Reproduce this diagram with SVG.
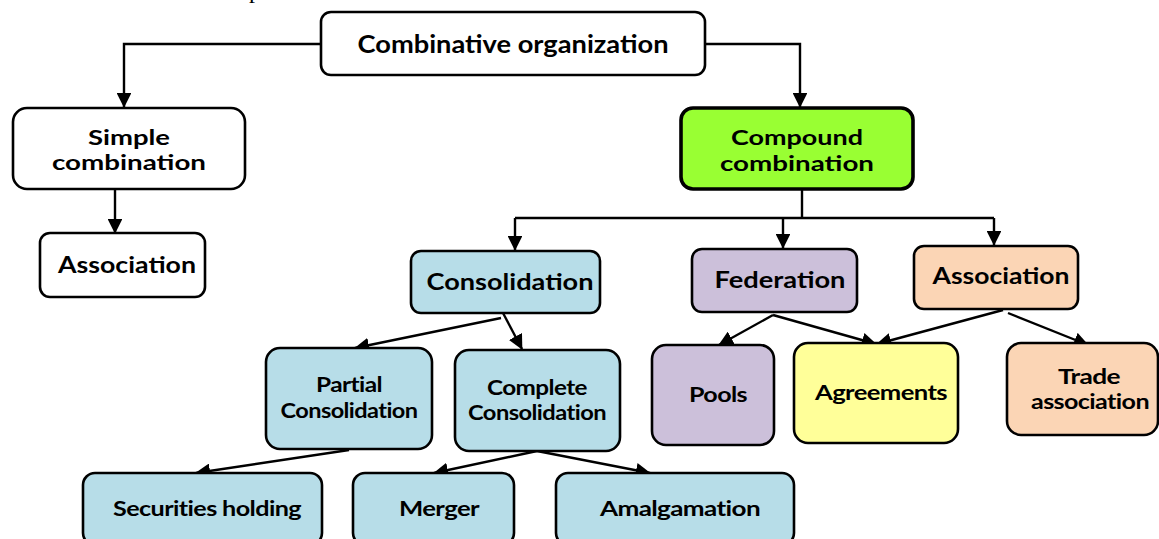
<svg xmlns="http://www.w3.org/2000/svg" width="1159" height="539" viewBox="0 0 1159 539">
  <style>
    .box { stroke: #000; stroke-width: 2.6; }
    .white { fill: #fff; }
    .blue { fill: #b7dde8; }
    .lilac { fill: #ccc0da; }
    .peach { fill: #fbd5b5; }
    .yellow { fill: #ffff99; }
    .green { fill: #99ff33; stroke-width: 3.6; }
    .lbl { font-family: Lato, "Open Sans", "Liberation Sans", sans-serif; font-weight: bold; fill: #000; text-anchor: middle; }
    .big { font-size: 24px; }
    .two { font-size: 21.5px; }
    .mid { font-size: 23px; }
    .small { font-size: 21px; letter-spacing: -0.5px; }
    .conn { fill: none; stroke: #000; stroke-width: 2.4; }
  </style>
  <defs>
    <marker id="arrow" viewBox="0 0 10 10" refX="9.5" refY="5" markerWidth="6.2" markerHeight="6.2" markerUnits="strokeWidth" orient="auto">
      <path d="M0,0 L10,5 L0,10 Z" fill="#000"/>
    </marker>
  </defs>

  <rect width="1159" height="539" fill="#fff"/>

  <!-- descender of a text line running above the chart -->
  <text x="249" y="-2" font-family="Liberation Serif, serif" font-size="24" fill="#000">p</text>

  <g id="connectors">
    <path class="conn" d="M321,44 H124 V107" marker-end="url(#arrow)"/>
    <path class="conn" d="M705,44 H800 V107" marker-end="url(#arrow)"/>
    <path class="conn" d="M115,189 V233" marker-end="url(#arrow)"/>
    <path class="conn" d="M802,190 V218"/>
    <path class="conn" d="M515,218 H994"/>
    <path class="conn" d="M515,218 V250" marker-end="url(#arrow)"/>
    <path class="conn" d="M783,218 V248" marker-end="url(#arrow)"/>
    <path class="conn" d="M994,218 V245" marker-end="url(#arrow)"/>
    <path class="conn" d="M501,318 L355,348" marker-end="url(#arrow)"/>
    <path class="conn" d="M503,313 L522,349" marker-end="url(#arrow)"/>
    <path class="conn" d="M773,315 L719,345" marker-end="url(#arrow)"/>
    <path class="conn" d="M773,315 L876,344" marker-end="url(#arrow)"/>
    <path class="conn" d="M1003,310 L877,344" marker-end="url(#arrow)"/>
    <path class="conn" d="M1008,313 L1088,345" marker-end="url(#arrow)"/>
    <path class="conn" d="M349,450 L196,473" marker-end="url(#arrow)"/>
    <path class="conn" d="M537,451 L434,473" marker-end="url(#arrow)"/>
    <path class="conn" d="M537,451 L650,473" marker-end="url(#arrow)"/>
  </g>

  <g id="combinative-organization">
    <rect class="box white" x="321" y="12" width="384" height="63" rx="10"/>
    <text class="lbl big" x="513" y="53" textLength="311" lengthAdjust="spacingAndGlyphs">Combinative organization</text>
  </g>

  <g id="simple-combination">
    <rect class="box white" x="13" y="108" width="232" height="81" rx="14"/>
    <text class="lbl two" x="129" y="145" textLength="82" lengthAdjust="spacingAndGlyphs">Simple</text>
    <text class="lbl two" x="129" y="170" textLength="154" lengthAdjust="spacingAndGlyphs">combination</text>
  </g>

  <g id="association-simple">
    <rect class="box white" x="40" y="233" width="165" height="64" rx="10"/>
    <text class="lbl mid" x="127" y="273" textLength="138" lengthAdjust="spacingAndGlyphs">Association</text>
  </g>

  <g id="compound-combination">
    <rect class="box green" x="681" y="108" width="232" height="81" rx="12"/>
    <text class="lbl two" x="797" y="145" textLength="132" lengthAdjust="spacingAndGlyphs">Compound</text>
    <text class="lbl two" x="797" y="171" textLength="154" lengthAdjust="spacingAndGlyphs">combination</text>
  </g>

  <g id="consolidation">
    <rect class="box blue" x="411" y="251" width="189" height="62" rx="10"/>
    <text class="lbl mid" x="510" y="290" textLength="167" lengthAdjust="spacingAndGlyphs">Consolidation</text>
  </g>

  <g id="federation">
    <rect class="box lilac" x="692" y="249" width="165" height="63" rx="10"/>
    <text class="lbl mid" x="780" y="288" textLength="131" lengthAdjust="spacingAndGlyphs">Federation</text>
  </g>

  <g id="association-compound">
    <rect class="box peach" x="914" y="246" width="164" height="63" rx="10"/>
    <text class="lbl mid" x="1001" y="284" textLength="137" lengthAdjust="spacingAndGlyphs">Association</text>
  </g>

  <g id="partial-consolidation">
    <rect class="box blue" x="266" y="348" width="166" height="101" rx="14"/>
    <text class="lbl small" x="349" y="392" textLength="66" lengthAdjust="spacingAndGlyphs">Partial</text>
    <text class="lbl small" x="349" y="418" textLength="137" lengthAdjust="spacingAndGlyphs">Consolidation</text>
  </g>

  <g id="complete-consolidation">
    <rect class="box blue" x="455" y="350" width="165" height="101" rx="14"/>
    <text class="lbl small" x="537" y="395" textLength="100" lengthAdjust="spacingAndGlyphs">Complete</text>
    <text class="lbl small" x="537" y="420" textLength="138" lengthAdjust="spacingAndGlyphs">Consolidation</text>
  </g>

  <g id="pools">
    <rect class="box lilac" x="652" y="345" width="122" height="100" rx="14"/>
    <text class="lbl small" x="718" y="402" textLength="58" lengthAdjust="spacingAndGlyphs">Pools</text>
  </g>

  <g id="agreements">
    <rect class="box yellow" x="794" y="343" width="164" height="100" rx="14"/>
    <text class="lbl small" x="881" y="400" textLength="132" lengthAdjust="spacingAndGlyphs">Agreements</text>
  </g>

  <g id="trade-association">
    <rect class="box peach" x="1007" y="343" width="151" height="92" rx="14"/>
    <text class="lbl small" x="1089" y="384" textLength="62" lengthAdjust="spacingAndGlyphs">Trade</text>
    <text class="lbl small" x="1090" y="409" textLength="118" lengthAdjust="spacingAndGlyphs">association</text>
  </g>

  <g id="securities-holding">
    <rect class="box blue" x="83" y="473" width="239" height="72" rx="12"/>
    <text class="lbl small" x="207" y="516" textLength="188" lengthAdjust="spacingAndGlyphs">Securities holding</text>
  </g>

  <g id="merger">
    <rect class="box blue" x="353" y="473" width="161" height="72" rx="12"/>
    <text class="lbl small" x="439" y="516" textLength="80" lengthAdjust="spacingAndGlyphs">Merger</text>
  </g>

  <g id="amalgamation">
    <rect class="box blue" x="556" y="473" width="238" height="72" rx="12"/>
    <text class="lbl small" x="680" y="516" textLength="160" lengthAdjust="spacingAndGlyphs">Amalgamation</text>
  </g>
</svg>
